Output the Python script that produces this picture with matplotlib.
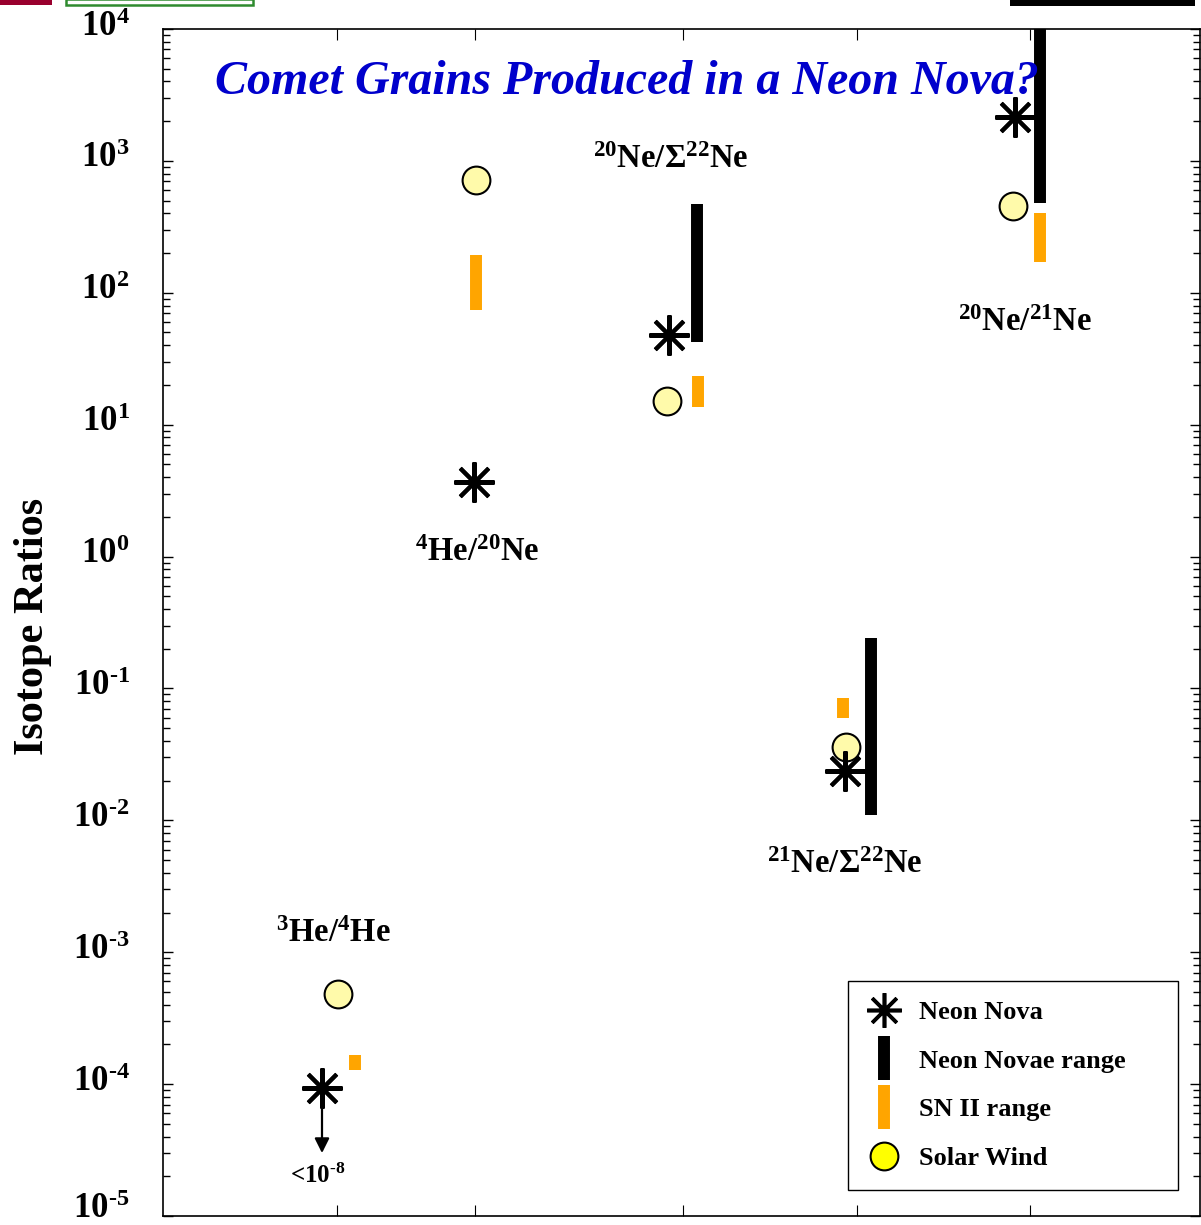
import matplotlib
matplotlib.use('Agg')
import matplotlib.pyplot as plt
import matplotlib.patches as mpatches
import matplotlib.transforms as mtransforms
from matplotlib.lines import Line2D
from matplotlib.ticker import LogLocator, NullFormatter, FixedLocator

plt.rcParams['font.family'] = 'Liberation Serif'
plt.rcParams['font.weight'] = 'bold'
plt.rcParams['mathtext.fontset'] = 'custom'
plt.rcParams['mathtext.rm'] = 'Liberation Serif:bold'
plt.rcParams['mathtext.bf'] = 'Liberation Serif:bold'
plt.rcParams['mathtext.it'] = 'Liberation Serif:bold:italic'

# ── data (x in 100-px units from the left spine) ─────────────────────────────
ratio_labels = [r'$\mathregular{^{3}He/^{4}He}$', r'$\mathregular{^{4}He/^{20}Ne}$',
                r'$\mathregular{^{20}Ne/\Sigma^{22}Ne}$', r'$\mathregular{^{21}Ne/\Sigma^{22}Ne}$',
                r'$\mathregular{^{20}Ne/^{21}Ne}$']
label_x = [1.70, 3.14, 5.08, 6.82, 8.62]
label_y = [1.39e-3, 1.07, 1030, 4.6e-3, 60]

tick_x = [1.74, 3.12, 5.20, 6.94, 8.67]
decades = list(range(-5, 5))

nova_x = [1.59, 3.11, 5.06, 6.82, 8.52]
nova_y = [9.4e-5, 3.7, 48, 0.0237, 2150]

wind_x = [1.75, 3.13, 5.04, 6.83, 8.50]
wind_y = [4.8e-4, 713, 15, 0.036, 453]

novae_x = [5.34, 7.08, 8.77]
novae_lo = [42, 0.011, 477]
novae_hi = [469, 0.242, 1.0e4]

sn_x = [1.92, 3.13, 5.35, 6.80, 8.77]
sn_lo = [1.29e-4, 73.5, 13.7, 0.060, 170]
sn_hi = [1.66e-4, 192, 23.2, 0.085, 401]

arrow_end = 3.0e-5
limit_text_y = 2.0e-5

# ── figure ───────────────────────────────────────────────────────────────────
W, H = 1201, 1225
fig = plt.figure(figsize=(W / 100, H / 100), dpi=100)
fig.patch.set_facecolor('white')
ax = fig.add_axes([163 / W, 9 / H, (1200 - 163) / W, (1216 - 29) / H])

# cut-off strips along the top edge
fig.add_artist(mpatches.Rectangle((0, 1 - 5 / H), 52 / W, 5 / H, transform=fig.transFigure,
                                  facecolor='#99002e', edgecolor='none'))
fig.add_artist(mpatches.Rectangle((66 / W, 1 - 5 / H), 187 / W, 6 / H, transform=fig.transFigure,
                                  facecolor='white', edgecolor='#2e8b2e', lw=1.8))
fig.add_artist(mpatches.Rectangle((1010 / W, 1 - 6 / H), 185 / W, 6 / H, transform=fig.transFigure,
                                  facecolor='black', edgecolor='none'))

ax.set_yscale('log')
ax.set_ylim(1e-5, 1e4)
ax.set_xlim(0, 10.37)

# ranges
ax.vlines(novae_x, novae_lo, novae_hi, colors='black', lw=8.6, capstyle='butt', zorder=2)
ax.vlines(sn_x, sn_lo, sn_hi, colors='#ffa500', lw=8.6, capstyle='butt', zorder=2)

star = (8, 2, 0)
ax.plot(wind_x, wind_y, 'o', ms=20, mfc='#fffaaa', mec='black', mew=1.5, ls='none', zorder=3)
ax.plot(nova_x, nova_y, marker=star, ms=29, mec='black', mew=2.9, ls='none', zorder=4)

# upper limit arrow for 3He/4He
ax.annotate('', xy=(nova_x[0], arrow_end), xytext=(nova_x[0], nova_y[0]),
            arrowprops=dict(arrowstyle='-|>', color='black', lw=1.6,
                            mutation_scale=22, shrinkA=0, shrinkB=0))
ax.text(1.55, limit_text_y, r'<$\mathregular{10^{\text{-}8}}$', ha='center', va='center',
        fontsize=18)

for lx, ly, lab in zip(label_x, label_y, ratio_labels):
    ax.text(lx, ly, lab, ha='center', va='center', fontsize=23.5)

ax.text(0.050, 0.9556, 'Comet Grains Produced in a Neon Nova?', transform=ax.transAxes,
        ha='left', va='center', fontsize=34.6, fontweight='bold', style='italic', color='#0000cc')

# ticks
ax.yaxis.set_minor_locator(LogLocator(base=10, subs=range(2, 10), numticks=20))
ax.yaxis.set_minor_formatter(NullFormatter())
ax.set_yticks([10.0 ** k for k in decades])
ax.set_yticklabels([r'$\mathregular{10^{\text{-}%d}}$' % -k if k < 0 else
                    r'$\mathregular{10^{%d}}$' % k for k in decades])
ax.xaxis.set_major_locator(FixedLocator(tick_x))
ax.set_xticklabels([])
ax.tick_params(axis='y', which='major', direction='in', length=7, width=1, labelsize=25,
               pad=24, left=True, right=True)
ax.tick_params(axis='y', which='minor', direction='in', length=5, width=1, left=True, right=True)
ax.tick_params(axis='x', which='major', direction='in', length=8, width=0.8, top=True, bottom=True)
for i, t in enumerate(ax.get_yticklabels()):
    up = 10 if i == 0 else 6
    t.set_transform(t.get_transform() +
                    mtransforms.ScaledTranslation(0, up / 100, fig.dpi_scale_trans))
for s in ax.spines.values():
    s.set_linewidth(1.2)

fig.text(33 / W, 1 - 626 / H, 'Isotope Ratios', rotation=90, ha='center', va='center',
         fontsize=30.5, fontweight='bold')

# legend
handles = [
    Line2D([], [], marker=star, ms=25, mec='black', mew=2.6, ls='none'),
    Line2D([], [], marker='|', ms=32, mec='black', mew=8.6, ls='none'),
    Line2D([], [], marker='|', ms=32, mec='#ffa500', mew=8.6, ls='none'),
    Line2D([], [], marker='o', ms=20, mfc='#ffff00', mec='black', mew=1.5, ls='none'),
]
names = ['Neon Nova', 'Neon Novae range', 'SN II range', 'Solar Wind']
leg = ax.legend(handles, names, loc='lower right',
                bbox_to_anchor=(0.6606, 0.0219, 0.3182, 0.1803), mode='expand',
                borderaxespad=0, fancybox=False, edgecolor='black', framealpha=1,
                prop={'family': 'Liberation Serif', 'weight': 'bold', 'size': 19},
                handlelength=1.2, handletextpad=0.75, labelspacing=0.96,
                borderpad=0.75)
leg.get_frame().set_linewidth(1.0)

fig.savefig('out.png', dpi=100, facecolor='white')
plt.close(fig)
